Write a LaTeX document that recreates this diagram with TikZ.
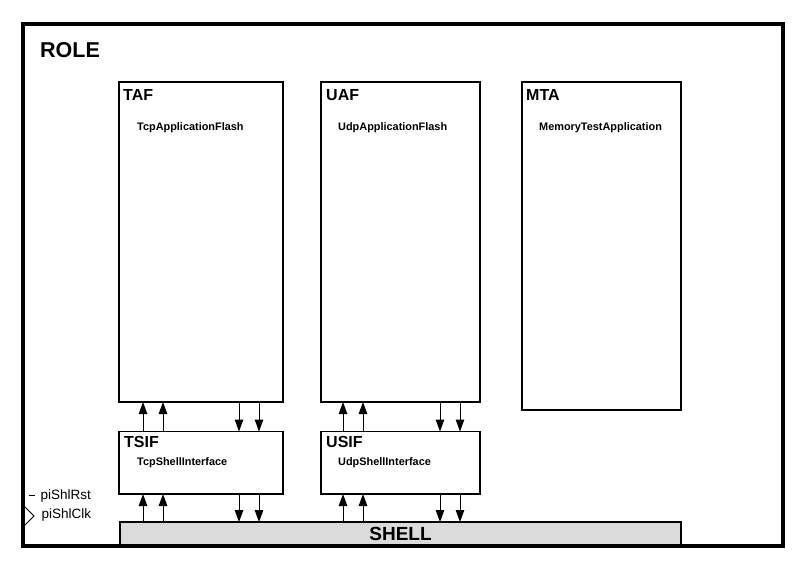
\documentclass[tikz,border=0pt]{standalone}
\usepackage{fontspec}
\setmainfont{Liberation Sans}
\usetikzlibrary{positioning, arrows.meta}
\tikzset{block/.style={ % Plain boxes of the role
draw, line width=1.2pt,
inner sep=0pt, outer sep=0pt,
anchor=north west},
short name/.style={ % Bold abbreviation in the box corner
font=\bfseries\fontsize{16}{16}\selectfont,
inner sep=0pt, anchor=base west},
long name/.style={ % Full name under the abbreviation
font=\bfseries\fontsize{10.9}{10.9}\selectfont,
inner sep=0pt, anchor=base west},
pin/.style={ % Port names of the role
font=\fontsize{13.5}{13.5}\selectfont,
inner sep=0pt, anchor=base west},
sig/.style={ % Streams between the boxes
draw, line width=1pt,
-{Triangle[length=12pt, width=8.5pt]}}}

\begin{document}
\begin{tikzpicture}[x=1pt, y=-1pt]

    \useasboundingbox (0,0) rectangle (803,566);

    \node[block, minimum width=164pt, minimum height=320pt] (taf) at (119,82) {};
    \node[block, minimum width=159pt, minimum height=320pt] (uaf) at (321,82) {};
    \node[block, minimum width=159pt, minimum height=328pt] (mta) at (522,82) {};
    \node[block, minimum width=164pt, minimum height=62.5pt] (tsif) at (119,431.5) {};
    \node[block, minimum width=159pt, minimum height=62.5pt] (usif) at (321,431.5) {};
    \node[block, fill=black!14, minimum width=561pt, minimum height=24pt,
          font=\bfseries\fontsize{19}{19}\selectfont] (shell) at (120,522) {SHELL};

    \node[short name] (tafname) at ([shift={(4,18)}]taf.north west) {TAF};
    \node[long name] (tafdesc) at ([shift={(18,48)}]taf.north west) {TcpApplicationFlash};
    \node[short name] (uafname) at ([shift={(5,18)}]uaf.north west) {UAF};
    \node[long name] (uafdesc) at ([shift={(17,48)}]uaf.north west) {UdpApplicationFlash};
    \node[short name] (mtaname) at ([shift={(4,18)}]mta.north west) {MTA};
    \node[long name] (mtadesc) at ([shift={(17,48)}]mta.north west) {MemoryTestApplication};
    \node[short name] (tsifname) at ([shift={(5,15.5)}]tsif.north west) {TSIF};
    \node[long name] (tsifdesc) at ([shift={(18,33.5)}]tsif.north west) {TcpShellInterface};
    \node[short name] (usifname) at ([shift={(5,15.5)}]usif.north west) {USIF};
    \node[long name] (usifdesc) at ([shift={(17,33.5)}]usif.north west) {UdpShellInterface};

    % upstream
    \foreach \app/\sif/\x in {taf/tsif/143, taf/tsif/163, uaf/usif/343, uaf/usif/363} {
        \draw[sig] (\sif.north -| \x,0) -- (\app.south -| \x,0);
        \draw[sig] (shell.north -| \x,0) -- (\sif.south -| \x,0);
    }
    % downstream
    \foreach \app/\sif/\x in {taf/tsif/239, taf/tsif/259, uaf/usif/440, uaf/usif/460} {
        \draw[sig] (\app.south -| \x,0) -- (\sif.north -| \x,0);
        \draw[sig] (\sif.south -| \x,0) -- (shell.north -| \x,0);
    }

    \node[block, line width=4pt, minimum width=760pt, minimum height=522pt] (role) at (23,24) {};
    \node[short name, font=\bfseries\fontsize{21.5}{21.5}\selectfont] (rolename) at ([shift={(17,33)}]role.north west) {ROLE};

    \node[pin] (rstname) at (40.5,499) {piShlRst};
    \node[pin] (clkname) at (41.5,518) {piShlClk};
    \coordinate (rst) at (28.5,495);
    \coordinate (clk) at (25,507);
    \draw[line width=1pt] (rst) -- ++(6.5,0);
    \draw[line width=1pt] (clk) -- ++(9,9) -- ++(-9,9);

\end{tikzpicture}
\end{document}
